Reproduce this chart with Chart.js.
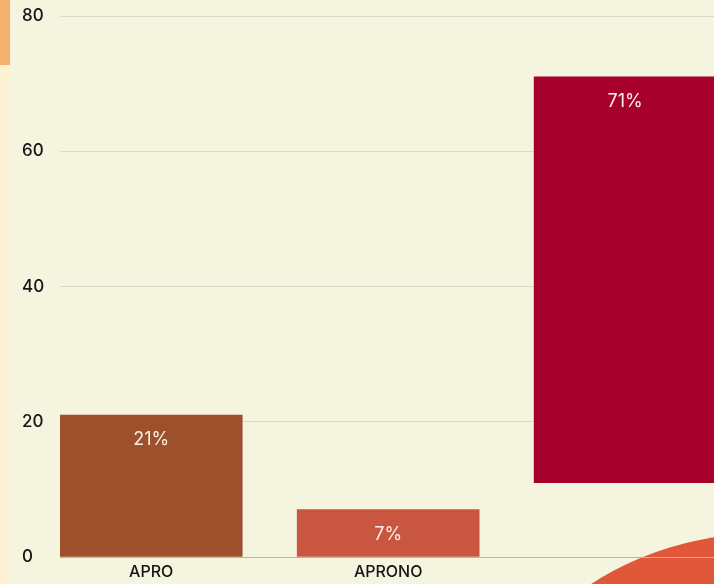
<!DOCTYPE html>
<html>
<head>
<meta charset="utf-8">
<script src="https://cdn.jsdelivr.net/npm/chart.js@4/dist/chart.umd.min.js"></script>
<style>
  html, body { margin:0; padding:0; width:714px; height:584px; overflow:hidden; background:#f5f4df; }
  #strip { position:absolute; left:0; top:0; width:10px; height:584px; background:#fef0d2; }
  #stripTop { position:absolute; left:0; top:0; width:10px; height:65px; background:#f5b06c; }
  #circle { position:absolute; left:449px; top:534px; width:622px; height:622px; border-radius:50%; background:#e0573a; }
  #c { position:absolute; left:0; top:0; }
</style>
</head>
<body>
<div id="strip"></div>
<div id="stripTop"></div>
<div id="circle"></div>
<canvas id="c" width="714" height="584"></canvas>
<script>
// ---- data ----
const categories = ['APRO', 'APRONO', ''];
const valuesHigh = [21, 7, 71];
const valuesLow  = [0, 0, 11];
const barColors  = ['#9d502c', '#c95640', '#a8002d'];
const yTicks     = [0, 20, 40, 60, 80];

const barLabelPlugin = {
  id: 'barLabels',
  afterDatasetsDraw(chart) {
    const ctx = chart.ctx;
    const meta = chart.getDatasetMeta(0);
    ctx.save();
    ctx.font = '18px Inter, "Noto Sans", sans-serif';
    ctx.fillStyle = '#f8efe6';
    ctx.textAlign = 'center';
    ctx.textBaseline = 'middle';
    meta.data.forEach((el, i) => {
      ctx.fillText(valuesHigh[i] + '%', el.x, el.y + 25);
    });
    ctx.restore();
  }
};

new Chart(document.getElementById('c'), {
  type: 'bar',
  data: {
    datasets: [{
      data: categories.map((c, i) => ({ x: i, y: [valuesLow[i], valuesHigh[i]] })),
      backgroundColor: barColors,
      borderWidth: 0,
      barThickness: 182
    }]
  },
  options: {
    responsive: false,
    animation: false,
    layout: { padding: { left: 22, top: 16, right: 0, bottom: 0 } },
    plugins: { legend: { display: false }, tooltip: { enabled: false } },
    scales: {
      x: {
        type: 'linear',
        min: -0.385,
        max: 2.375,
        offset: false,
        grid: { display: false, drawTicks: false },
        border: { display: true, color: '#a9b9c6', width: 1 },
        afterFit(axis) { axis.height = 27; },
        ticks: {
          stepSize: 1,
          includeBounds: false,
          autoSkip: false,
          maxRotation: 0,
          padding: 6,
          color: '#161616',
          font: { family: 'Inter, "Noto Sans", sans-serif', size: 16, weight: '500' },
          callback: (v) => (Number.isInteger(v) && categories[v] !== undefined) ? categories[v] : ''
        }
      },
      y: {
        min: 0,
        max: 80,
        afterFit(axis) { axis.width = 38; },
        afterBuildTicks(axis) { axis.ticks = yTicks.map(v => ({ value: v })); },
        grid: { color: '#d9d9cf', lineWidth: 1, drawTicks: false },
        border: { display: false },
        ticks: {
          crossAlign: 'far',
          padding: 0,
          color: '#161616',
          font: { family: 'Inter, "Noto Sans", sans-serif', size: 17, weight: '500' }
        }
      }
    }
  },
  plugins: [barLabelPlugin]
});
</script>
</body>
</html>
